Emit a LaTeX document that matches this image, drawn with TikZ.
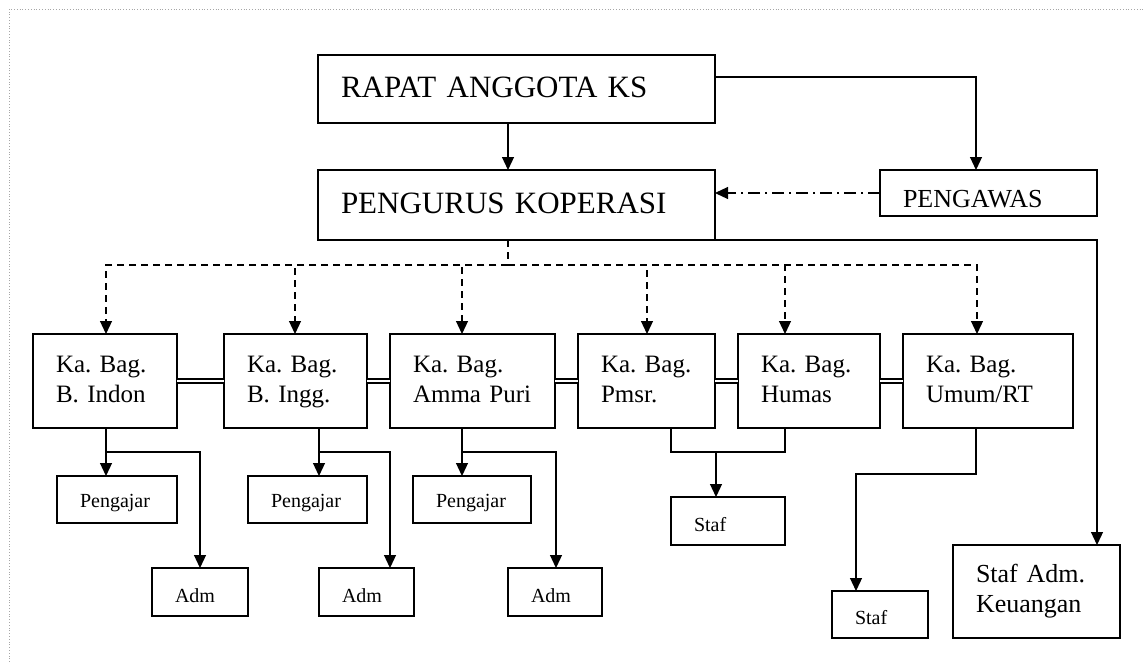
\documentclass[tikz,border=0pt]{standalone}
\usepackage{fontspec}
\setmainfont{Liberation Serif}
\usetikzlibrary{arrows.meta}
\hyphenpenalty=10000
\exhyphenpenalty=10000
\begin{document}
\begin{tikzpicture}[x=1pt,y=-1pt,
  box/.style={draw, line width=1.3pt, inner sep=0pt, outer sep=0pt, align=left, text depth=0pt},
  big/.style={font=\fontsize{31}{37}\selectfont},
  mid/.style={font=\fontsize{25}{30}\selectfont},
  sml/.style={font=\fontsize{20}{24}\selectfont},
  conn/.style={line width=1.2pt},
  arr/.style={conn, -{Triangle[width=12pt,length=13pt]}},
  dsh/.style={conn, dash pattern=on 7pt off 5pt},
  dsharr/.style={dsh, -{Triangle[width=12pt,length=13pt]}},
  ddarr/.style={conn, dash pattern=on 12pt off 5pt on 2pt off 5pt, -{Triangle[width=12pt,length=13pt]}},
  dbl/.style={line width=1.3pt, double, double distance=2.6pt}]
\useasboundingbox (0,0) rectangle (1143,662);
% scan frame
\draw[gray!70, line width=0.8pt, dotted] (9,662) -- (9,9) -- (1143,9);

% top level
\node[box, big, minimum width=397pt, minimum height=68pt, text width=351pt, text height=16pt] (r) at (516.5,89) {RAPAT~ANGGOTA~KS};
\node[box, big, minimum width=397pt, minimum height=70pt, text width=351pt, text height=16pt] (p) at (516.5,205) {PENGURUS~KOPERASI};
\node[box, font=\fontsize{26}{31}\selectfont, minimum width=217pt, minimum height=46pt, text width=171pt, text height=28pt] (w) at (988.5,193) {PENGAWAS};

% department heads
\node[box, mid, minimum width=144pt, minimum height=94pt, text width=98pt, text height=0pt, text depth=18pt] (b1) at (105,381) {Ka.~Bag.\\B.~Indon};
\node[box, mid, minimum width=143pt, minimum height=94pt, text width=97pt, text height=0pt, text depth=18pt] (b2) at (295.5,381) {Ka.~Bag.\\B.~Ingg.};
\node[box, mid, minimum width=165pt, minimum height=94pt, text width=119pt, text height=0pt, text depth=18pt] (b3) at (472.5,381) {Ka.~Bag.\\Amma~Puri};
\node[box, mid, minimum width=137pt, minimum height=94pt, text width=91pt, text height=0pt, text depth=18pt] (b4) at (646.5,381) {Ka.~Bag.\\Pmsr.};
\node[box, mid, minimum width=142pt, minimum height=94pt, text width=96pt, text height=0pt, text depth=18pt] (b5) at (809,381) {Ka.~Bag.\\Humas};
\node[box, mid, minimum width=170pt, minimum height=94pt, text width=124pt, text height=0pt, text depth=18pt] (b6) at (988,381) {Ka.~Bag.\\Umum/RT};

% lower level
\node[box, sml, minimum width=120pt, minimum height=47pt, text width=74pt, text height=15pt] (pg1) at (117,499.5) {Pengajar};
\node[box, sml, minimum width=119pt, minimum height=47pt, text width=73pt, text height=15pt] (pg2) at (307.5,499.5) {Pengajar};
\node[box, sml, minimum width=118pt, minimum height=47pt, text width=72pt, text height=15pt] (pg3) at (472,499.5) {Pengajar};
\node[box, sml, minimum width=96pt, minimum height=48pt, text width=50pt, text height=20pt] (ad1) at (200,592) {Adm};
\node[box, sml, minimum width=95pt, minimum height=48pt, text width=49pt, text height=20pt] (ad2) at (366.5,592) {Adm};
\node[box, sml, minimum width=94pt, minimum height=48pt, text width=48pt, text height=20pt] (ad3) at (555,592) {Adm};
\node[box, sml, minimum width=114pt, minimum height=48pt, text width=68pt, text height=20pt] (st1) at (728,521) {Staf};
\node[box, sml, minimum width=96pt, minimum height=47pt, text width=50pt, text height=19pt] (st2) at (880,614.5) {Staf};
\node[box, font=\fontsize{26}{30}\selectfont, minimum width=167pt, minimum height=93pt, text width=121pt, text height=0pt, text depth=19pt] (sk) at (1036.5,591.5) {Staf~Adm.\\Keuangan};

% top connectors
\draw[arr] (r.south -| 508,0) -- (p.north -| 508,0);
\draw[arr] (r.east |- 0,77) -| (w.north -| 976,0);
\draw[ddarr] (w.west) -- (w.west -| p.east);
\draw[arr] (p.south east) -| (sk.north -| 1097,0);

% dashed distribution
\coordinate (d0) at (508,265);
\draw[dsh] (p.south -| d0) -- (d0);
\draw[dsharr] (d0) -| (b1.north -| 106,0);
\draw[dsharr] (d0) -| (b2.north -| 295,0);
\draw[dsharr] (d0) -| (b3.north -| 462,0);
\draw[dsharr] (d0) -| (b4.north -| 647,0);
\draw[dsharr] (d0) -| (b5.north -| 785,0);
\draw[dsharr] (d0) -| (b6.north -| 977,0);

% double links between heads
\draw[dbl] (b1.east) -- (b2.west);
\draw[dbl] (b2.east) -- (b3.west);
\draw[dbl] (b3.east) -- (b4.west);
\draw[dbl] (b4.east) -- (b5.west);
\draw[dbl] (b5.east) -- (b6.west);

% B. Indon
\coordinate (j1) at (106,452);
\draw[arr] (b1.south -| j1) -- (pg1.north -| j1);
\draw[arr] (j1) -| (ad1.north);
% B. Ingg.
\coordinate (j2) at (319,452);
\draw[arr] (b2.south -| j2) -- (pg2.north -| j2);
\draw[arr] (j2) -| (ad2.north -| 390,0);
% Amma Puri
\coordinate (j3) at (462,452);
\draw[arr] (b3.south -| j3) -- (pg3.north -| j3);
\draw[arr] (j3) -| (ad3.north -| 556,0);
% Pmsr. + Humas
\coordinate (j4) at (671,452);
\coordinate (j5) at (785,452);
\coordinate (j45) at (716,452);
\draw[conn] (b4.south -| j4) -- (j4) -- (j5) -- (b5.south -| j5);
\draw[arr] (j45) -- (st1.north -| j45);
% Umum/RT
\coordinate (j6) at (976,474);
\draw[arr] (b6.south -| j6) -- (j6) -| (st2.north -| 856,0);
\end{tikzpicture}
\end{document}
